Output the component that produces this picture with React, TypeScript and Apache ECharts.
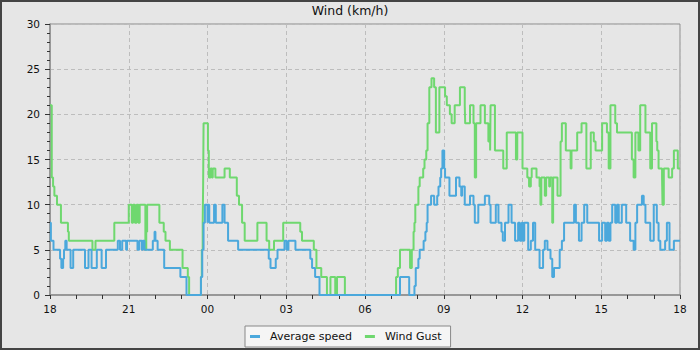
import React, { useEffect, useRef } from "react";
import * as echarts from "echarts";

const chartTitle = "Wind (km/h)";
const seriesNames = ["Average speed", "Wind Gust"];
const seriesColors = ["#4ba8dc", "#6fd86f"];

// x axis: 24 hours starting at 18:00, labelled every 3 hours
const xStartHour = 18;
const xSpanMinutes = 1440;
const xLabelStepMinutes = 180;
const yMax = 30;
const yStep = 5;

const avgTimes = [
  "18:00", "18:02", "18:08", "18:23", "18:26", "18:30", "18:32", "18:35", "18:38", "18:47",
  "18:53", "19:20", "19:28", "19:35", "19:47", "19:58", "20:08", "20:35", "20:40", "20:45",
  "20:54", "20:56", "21:20", "21:24", "21:30", "21:32", "21:36", "21:55", "21:59", "22:01",
  "22:06", "22:21", "22:58", "23:12", "23:45", "23:48", "23:51", "23:54", "00:00", "00:01",
  "00:04", "00:15", "00:19", "00:34", "00:39", "00:47", "01:10", "02:20", "02:24", "02:36",
  "02:40", "02:56", "03:01", "03:05", "03:21", "03:55", "03:59", "04:06", "04:16", "07:20",
  "07:41", "07:53", "07:56", "08:02", "08:05", "08:14", "08:18", "08:21", "08:23", "08:31",
  "08:38", "08:45", "08:48", "08:52", "08:54", "08:57", "09:01", "09:03", "09:13", "09:28",
  "09:36", "09:40", "09:42", "09:48", "10:00", "10:08", "10:11", "10:19", "10:34", "10:44",
  "10:47", "10:59", "11:05", "11:12", "11:15", "11:20", "11:28", "11:35", "11:43", "11:50",
  "11:54", "11:58", "12:01", "12:04", "12:13", "12:19", "12:24", "12:29", "12:39", "12:47",
  "12:51", "12:57", "13:04", "13:08", "13:12", "13:25", "13:30", "13:35", "13:58", "14:02",
  "14:09", "14:15", "14:21", "14:28", "14:55", "15:02", "15:09", "15:13", "15:17", "15:21",
  "15:25", "15:32", "15:36", "15:40", "15:47", "15:57", "16:06", "16:14", "16:18", "16:22",
  "16:33", "16:37", "16:41", "16:52", "17:00", "17:07", "17:11", "17:15", "17:26", "17:30",
  "17:36", "17:46", "18:00",
];
const avgValues = [
  8, 6, 5, 4, 3, 4, 5, 6, 5, 3,
  5, 3, 5, 3, 5, 3, 5, 6, 5, 6,
  5, 6, 5, 6, 5, 6, 5, 6, 7, 6,
  5, 3, 2, 0, 2, 5, 8, 10, 8, 10,
  8, 10, 8, 10, 8, 6, 5, 4, 3, 4,
  5, 6, 5, 6, 5, 4, 3, 2, 0, 2,
  0, 1, 3, 4, 5, 6, 7, 8, 10, 11,
  10, 11, 12, 13, 14, 16, 14, 13, 11, 13,
  12, 11, 12, 10, 11, 10, 8, 10, 11, 10,
  8, 10, 8, 7, 6, 8, 10, 8, 6, 8,
  6, 8, 6, 8, 5, 6, 8, 5, 3, 5,
  6, 5, 4, 2, 3, 5, 6, 8, 10, 8,
  6, 8, 10, 8, 6, 8, 6, 8, 6, 8,
  10, 8, 10, 8, 10, 8, 6, 5, 8, 10,
  11, 10, 8, 6, 10, 8, 6, 5, 6, 8,
  5, 6, 6,
];

const gustTimes = [
  "18:00", "18:04", "18:07", "18:10", "18:16", "18:25", "18:41", "18:43", "19:37", "19:44",
  "20:27", "21:00", "21:07", "21:10", "21:14", "21:18", "21:22", "21:25", "21:38", "21:40",
  "21:42", "22:10", "22:20", "22:24", "22:34", "23:03", "23:15", "23:18", "23:45", "23:47",
  "23:49", "23:50", "23:51", "00:01", "00:03", "00:07", "00:10", "00:12", "00:18", "00:39",
  "00:51", "01:07", "01:12", "01:19", "01:25", "01:54", "02:15", "02:21", "02:32", "02:53",
  "03:32", "03:36", "04:03", "04:09", "04:20", "04:33", "04:41", "04:52", "04:56", "05:14",
  "07:11", "07:15", "07:20", "07:43", "07:47", "07:51", "07:53", "07:55", "08:02", "08:05",
  "08:13", "08:16", "08:20", "08:23", "08:27", "08:32", "08:38", "08:42", "08:50", "09:03",
  "09:07", "09:14", "09:18", "09:25", "09:37", "09:48", "09:49", "10:00", "10:08", "10:11",
  "10:14", "10:24", "10:34", "10:42", "10:46", "10:47", "10:57", "11:16", "11:24", "11:45",
  "11:48", "12:00", "12:11", "12:15", "12:19", "12:21", "12:32", "12:39", "12:41", "12:43",
  "12:51", "12:54", "13:01", "13:03", "13:08", "13:10", "13:20", "13:27", "13:30", "13:39",
  "13:50", "13:52", "14:05", "14:15", "14:26", "14:36", "14:43", "14:47", "15:02", "15:13",
  "15:17", "15:21", "15:32", "15:36", "16:10", "16:14", "16:18", "16:25", "16:29", "16:41",
  "16:52", "16:56", "17:06", "17:08", "17:11", "17:19", "17:20", "17:23", "17:34", "17:42",
  "17:46", "17:55", "18:00",
];
const gustValues = [
  21, 13, 12, 11, 10, 8, 7, 6, 5, 6,
  8, 10, 8, 10, 8, 10, 8, 10, 5, 7,
  10, 8, 7, 6, 5, 3, 2, 0, 2, 5,
  8, 12, 19, 16, 13, 14, 13, 14, 13, 14,
  13, 11, 10, 8, 6, 8, 6, 5, 6, 8,
  7, 6, 5, 3, 2, 0, 2, 0, 2, 0,
  2, 3, 5, 3, 5, 7, 8, 10, 12, 13,
  14, 15, 16, 19, 23, 24, 23, 18, 23, 22,
  21, 20, 19, 21, 23, 21, 19, 21, 19, 13,
  19, 21, 19, 17, 16, 21, 16, 14, 18, 15,
  18, 14, 13, 12, 13, 14, 13, 12, 10, 13,
  11, 13, 12, 13, 8, 13, 11, 17, 19, 16,
  14, 16, 18, 19, 14, 18, 17, 16, 19, 18,
  14, 21, 19, 18, 15, 13, 18, 16, 21, 18,
  14, 19, 17, 16, 14, 13, 10, 14, 13, 14,
  16, 14, 14,
];

function toMinutes(times: string[]): number[] {
  const out: number[] = [];
  let prev = -1;
  for (const t of times) {
    const [h, m] = t.split(":").map(Number);
    let v = (((h * 60 + m - xStartHour * 60) % 1440) + 1440) % 1440;
    if (prev >= 0 && v < prev) v += 1440;
    out.push(v);
    prev = v;
  }
  return out;
}

function pairs(times: string[], values: number[]): number[][] {
  const mins = toMinutes(times);
  return mins.map((m, i) => [m, values[i]]);
}

export default function App() {
  const ref = useRef<HTMLDivElement>(null);
  useEffect(() => {
    if (!ref.current) return;
    const chart = echarts.init(ref.current, undefined, { renderer: "svg" });
    const font = "DejaVu Sans";
    const axisColor = "#8c8c8c";
    chart.setOption({
      animation: false,
      backgroundColor: "#e6e6e6",
      textStyle: { fontFamily: font },
      title: {
        text: chartTitle,
        left: "center",
        top: 4,
        padding: 0,
        textStyle: { fontSize: 12.5, fontWeight: "normal", color: "#111", fontFamily: font },
      },
      graphic: [
        {
          type: "rect",
          shape: { x: 1, y: 1, width: 698, height: 348 },
          style: { fill: "none", stroke: "#444", lineWidth: 2 },
          silent: true,
          z: 100,
        },
      ],
      legend: {
        bottom: 3,
        left: 245,
        data: seriesNames,
        icon: "rect",
        itemWidth: 10,
        itemHeight: 3,
        itemGap: 13,
        padding: [5, 9, 5, 5],
        backgroundColor: "#f5f5f5",
        borderColor: "#888",
        borderWidth: 1,
        borderRadius: 0,
        textStyle: { fontSize: 11, color: "#111", fontFamily: font, padding: [0, 0, 0, 5] },
      },
      grid: {
        left: 50,
        right: 20,
        top: 24,
        bottom: 55,
        show: true,
        borderColor: axisColor,
        borderWidth: 1,
        backgroundColor: "transparent",
      },
      xAxis: {
        type: "value",
        min: 0,
        max: xSpanMinutes,
        interval: xLabelStepMinutes,
        axisLine: { show: true, lineStyle: { color: axisColor, width: 1.5 } },
        axisTick: { show: true, length: 4, lineStyle: { color: "#333" } },
        minorTick: { show: true, splitNumber: 3, length: 4, lineStyle: { color: "#333" } },
        axisLabel: {
          margin: 8,
          fontSize: 10.5,
          color: "#111",
          fontFamily: font,
          formatter: (v: number) => String(Math.round((xStartHour + v / 60) % 24)).padStart(2, "0"),
        },
        splitLine: { show: true, lineStyle: { color: "#bdbdbd", type: [4, 3], width: 1 } },
      },
      yAxis: {
        type: "value",
        min: 0,
        max: yMax,
        interval: yStep,
        axisLine: { show: true, lineStyle: { color: axisColor, width: 1.5 } },
        axisTick: { show: true, length: 5, lineStyle: { color: "#333" } },
        minorTick: { show: true, splitNumber: 5, length: 3, lineStyle: { color: "#333" } },
        axisLabel: { margin: 10, fontSize: 10.5, color: "#111", fontFamily: font },
        splitLine: { show: true, lineStyle: { color: "#bdbdbd", type: [4, 3], width: 1 } },
      },
      series: [
        {
          name: seriesNames[0],
          type: "line",
          step: "end",
          showSymbol: false,
          data: pairs(avgTimes, avgValues),
          color: seriesColors[0],
          lineStyle: { width: 2, color: seriesColors[0] },
          z: 3,
        },
        {
          name: seriesNames[1],
          type: "line",
          step: "end",
          showSymbol: false,
          data: pairs(gustTimes, gustValues),
          color: seriesColors[1],
          lineStyle: { width: 2, color: seriesColors[1] },
          z: 2,
        },
      ],
    });
    return () => chart.dispose();
  }, []);
  return (
    <div
      ref={ref}
      style={{ position: "absolute", left: 0, top: 0, width: 700, height: 350 }}
    />
  );
}
